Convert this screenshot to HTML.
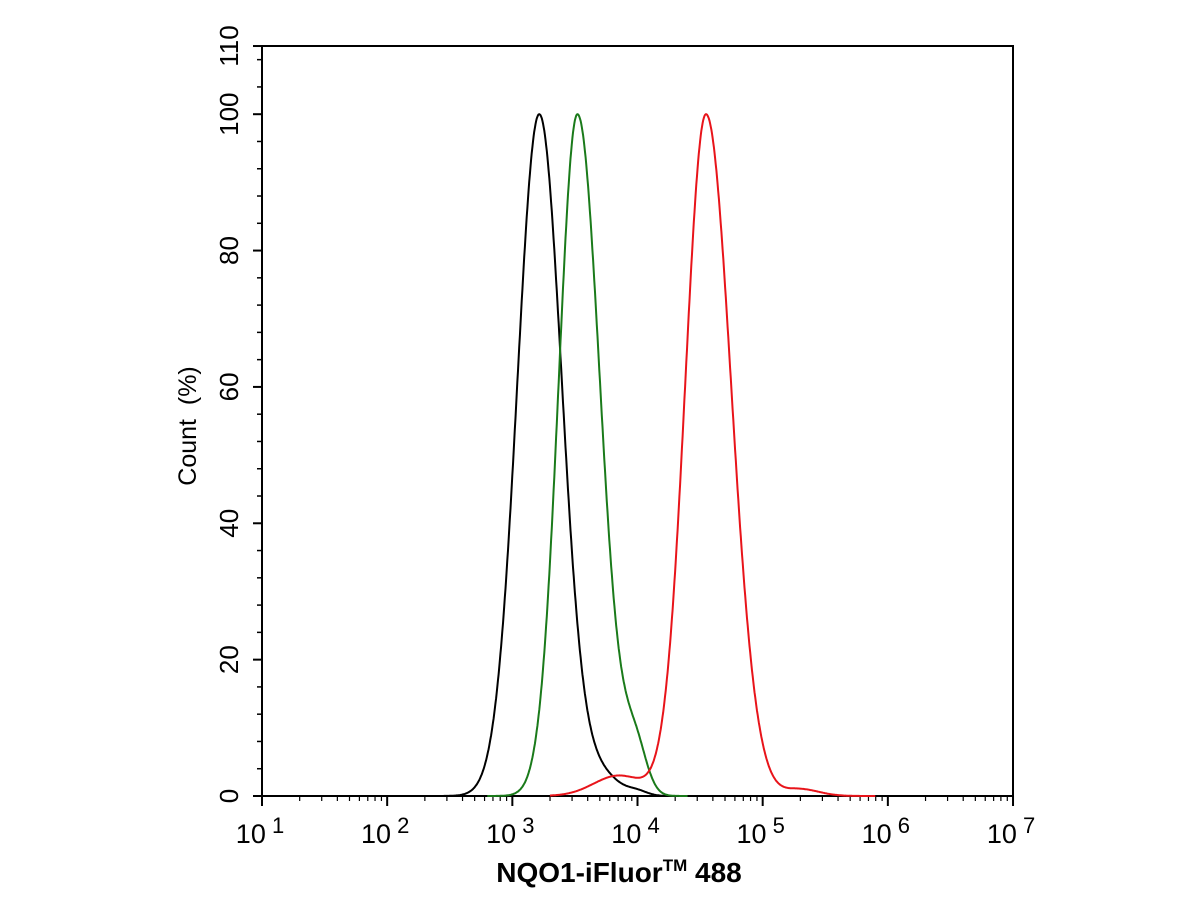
<!DOCTYPE html>
<html><head><meta charset="utf-8"><style>
body{margin:0;background:#fff;}
svg{display:block;font-family:"Liberation Sans",Arial,sans-serif;}
</style></head><body>
<svg id="s" width="1200" height="900" viewBox="0 0 1200 900">
<rect x="262" y="46" width="751" height="750" fill="none" stroke="#000" stroke-width="2"/>
<g id="ax"></g>
<g id="cv" fill="none" stroke-width="2"></g>
<text x="619" y="882" font-size="28" font-weight="bold" text-anchor="middle">NQO1-iFluor<tspan font-size="17" dy="-11">TM</tspan><tspan dy="11"> 488</tspan></text>
<text transform="translate(196,426) rotate(-90)" font-size="25" text-anchor="middle" xml:space="preserve">Count  (%)</text>
</svg>
<script>
const ns="http://www.w3.org/2000/svg";
const ax=document.getElementById('ax'),cv=document.getElementById('cv');
function el(t,a,p){const e=document.createElementNS(ns,t);for(const k in a)e.setAttribute(k,a[k]);(p||ax).appendChild(e);return e;}
const X=l=>262+(l-1)*125.17, Y=v=>796-v*6.818;
for(let v=0;v<=110;v+=2){let maj=(v%20==0)||v==110; if(!maj && v%4!=0) continue;
 el('line',{x1:262-(maj?9:5),x2:262,y1:Y(v),y2:Y(v),stroke:'#000','stroke-width':maj?2:1.5});
 if(maj){const t=el('text',{transform:`translate(238,${Y(v)}) rotate(-90)`,'font-size':26,'text-anchor':'middle'});t.textContent=v;}}
for(let d=1;d<=7;d++){el('line',{x1:X(d),x2:X(d),y1:796,y2:806,stroke:'#000','stroke-width':2});
 const t=el('text',{x:X(d)-2,y:843,'font-size':27,'text-anchor':'middle'});t.innerHTML='10<tspan font-size="22" dy="-10"> '+d+'</tspan>';
 if(d<7)for(let m=2;m<10;m++){const x=X(d+Math.log10(m));el('line',{x1:x,x2:x,y1:796,y2:801,stroke:'#000','stroke-width':1.2});}}
function curve(comps,lo,hi,col){let max=0,vals=[];
 for(let l=lo;l<=hi;l+=0.005){let s=0;for(const c of comps){const sg=l<c[0]?c[1]:c[2];s+=c[3]*Math.exp(-0.5*((l-c[0])/sg)**2);}vals.push([l,s]);if(s>max)max=s;}
 const d=vals.map((p,i)=>(i?'L':'M')+X(p[0]).toFixed(1)+','+Y(p[1]/max*100).toFixed(1)).join('');
 el('path',{d:d,stroke:col},cv);}
curve([[3.215,0.175,0.18,1],[3.7,0.15,0.15,0.03],[4.0,0.08,0.08,0.006]],2.3,4.3,'#000');
curve([[3.52,0.15,0.18,1],[3.98,0.1,0.09,0.07]],2.8,4.4,'#1a7a1a');
curve([[4.547,0.165,0.2,1],[3.85,0.2,0.2,0.03],[5.3,0.12,0.15,0.01]],3.3,5.9,'#e8141a');
</script>
</body></html>
